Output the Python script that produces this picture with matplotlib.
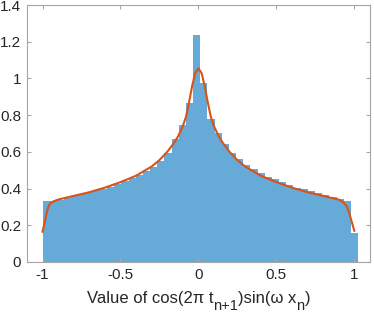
import numpy as np
import matplotlib
matplotlib.use("Agg")
import matplotlib.pyplot as plt

# histogram (pdf-normalised) bin edges and heights
bin_start = -1.0
bin_width = 0.046
bar_heights = [0.33, 0.33, 0.34, 0.35, 0.36, 0.37, 0.38, 0.39, 0.40, 0.41,
               0.425, 0.44, 0.455, 0.475, 0.495, 0.52, 0.55, 0.595, 0.67, 0.746,
               0.864, 1.236, 0.975, 0.78, 0.70, 0.645, 0.595, 0.56, 0.53, 0.505,
               0.485, 0.465, 0.45, 0.435, 0.42, 0.405, 0.395, 0.385, 0.375, 0.365,
               0.355, 0.345, 0.33, 0.16]

# density curve
curve_x = [-1.0, -0.99, -0.98, -0.97, -0.96, -0.95, -0.93, -0.90, -0.85, -0.80,
           -0.70, -0.60, -0.50, -0.40, -0.30, -0.25, -0.20, -0.16, -0.13, -0.10,
           -0.08, -0.06, -0.04, -0.02, 0.0, 0.02, 0.04, 0.06, 0.08, 0.10,
           0.13, 0.16, 0.20, 0.25, 0.30, 0.40, 0.50, 0.60, 0.70, 0.80,
           0.85, 0.90, 0.93, 0.95, 0.96, 0.97, 0.98, 0.99, 1.0]
curve_y = [0.165, 0.20, 0.24, 0.28, 0.305, 0.32, 0.33, 0.34, 0.35, 0.36,
           0.38, 0.405, 0.435, 0.47, 0.52, 0.555, 0.60, 0.645, 0.685, 0.74,
           0.79, 0.87, 0.96, 1.03, 1.055, 1.03, 0.96, 0.87, 0.79, 0.74,
           0.685, 0.645, 0.60, 0.555, 0.52, 0.47, 0.435, 0.405, 0.38, 0.36,
           0.35, 0.34, 0.325, 0.305, 0.285, 0.26, 0.23, 0.20, 0.17]

xticks = [-1, -0.5, 0, 0.5, 1]
xtick_labels = ["-1", "-0.5", "0", "0.5", "1"]
yticks = [0, 0.2, 0.4, 0.6, 0.8, 1.0, 1.2, 1.4]
ytick_labels = ["0", "0.2", "0.4", "0.6", "0.8", "1", "1.2", "1.4"]

# x-label pieces: (text, is_subscript)
xlabel_parts = [("Value of cos(2\u03c0 t", False), ("n+1", True),
                (")sin(\u03c9 x", False), ("n", True), (")", False)]

plt.rcParams['font.family'] = ['Liberation Sans', 'DejaVu Sans']

W, H = 374, 313
fig = plt.figure(figsize=(W / 100, H / 100), dpi=100)
ax = fig.add_axes([0.072, 0.163, 0.917, 0.821])

n = len(bar_heights)
lefts = [bin_start + i * bin_width for i in range(n)]
ax.bar(lefts, bar_heights, width=bin_width, align='edge',
       color='#66AAD7', edgecolor='none', linewidth=0)
ax.plot(curve_x, curve_y, color='#D95319', linewidth=1.5)

ax.set_xlim(-1.1, 1.1)
ax.set_ylim(0, 1.4)
ax.set_xticks(xticks)
ax.set_xticklabels(xtick_labels)
ax.set_yticks(yticks)
ax.set_yticklabels(ytick_labels)

gray = '#A6A6A6'
for s in ax.spines.values():
    s.set_color(gray)
    s.set_linewidth(0.8)
ax.tick_params(direction='in', length=3, width=0.8, color=gray,
               labelsize=11, labelcolor='#262626', top=True, right=True, pad=4)

# build the x label from pieces so the subscripts sit low like the original
renderer = fig.canvas.get_renderer()
main_size, sub_size = 12, 10.5
base_y_px = 303
sub_y_px = 310
texts = []
widths = []
for s, sub in xlabel_parts:
    t = fig.text(0, 0, s, fontsize=sub_size if sub else main_size,
                 color='#262626', ha='left', va='baseline')
    texts.append((t, sub))
    widths.append(t.get_window_extent(renderer).width)
total = sum(widths)
ax_center_px = (0.072 + 0.917 / 2) * W
x_px = ax_center_px - total / 2
for (t, sub), w in zip(texts, widths):
    yy = sub_y_px if sub else base_y_px
    t.set_position((x_px / W, (H - yy) / H))
    x_px += w

fig.savefig('out.png', dpi=100)
